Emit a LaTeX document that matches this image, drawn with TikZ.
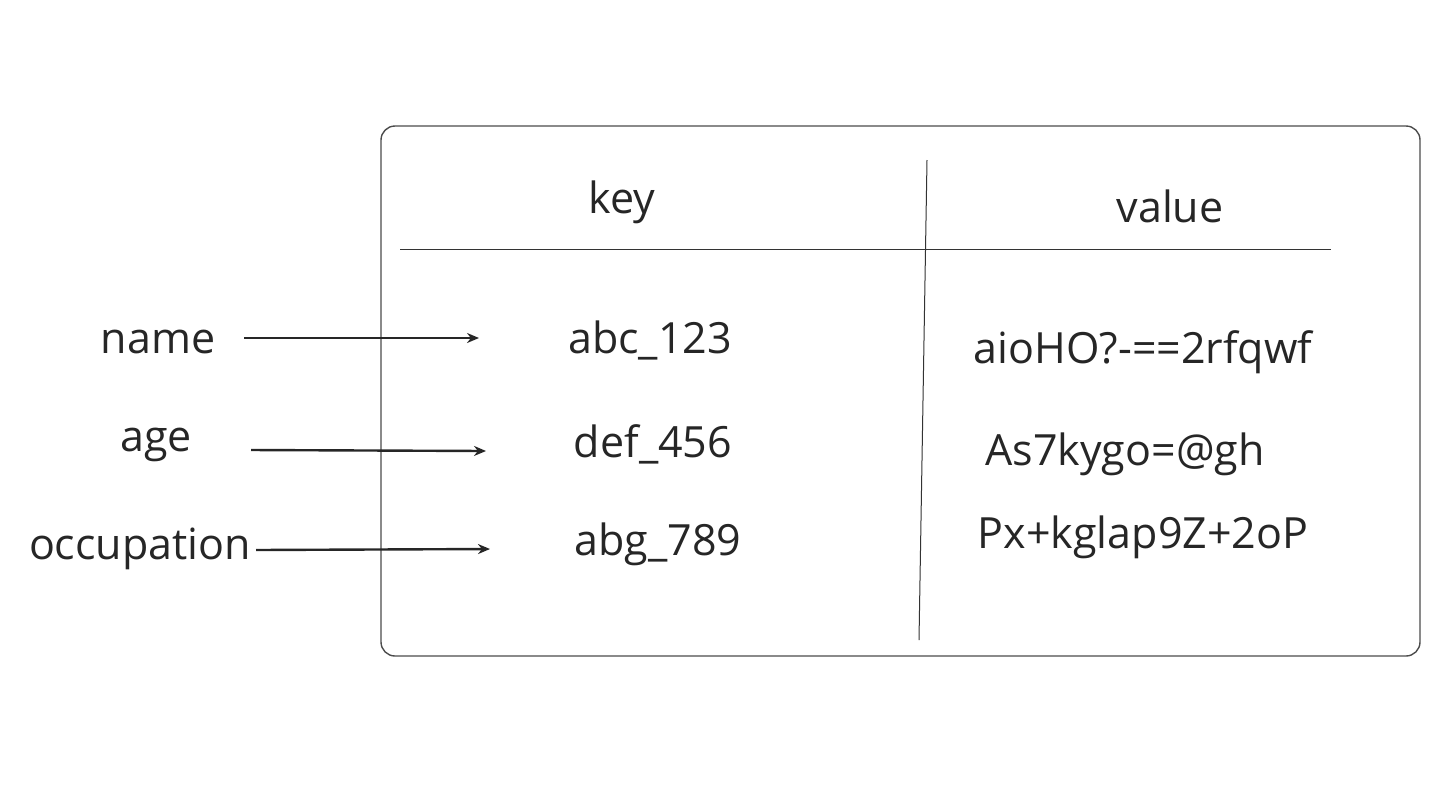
\documentclass[tikz,border=0pt]{standalone}
\usepackage{fontspec}
\setmainfont{Open Sans}
\usetikzlibrary{arrows.meta}
\begin{document}
\begin{tikzpicture}[x=0.5pt,y=-0.5pt,
  lbl/.style={font=\fontsize{21.5}{25}\selectfont, text=black!85, inner sep=0pt, anchor=center, yshift=-2pt},
  frame/.style={draw=black!70, line width=0.7pt, rounded corners=7pt},
  rule/.style={draw=black!80, line width=0.5pt},
  conn/.style={draw=black!85, line width=1.2pt, -{Stealth[length=6pt,width=5pt]}}]
\useasboundingbox (0,0) rectangle (1440,810);
\draw[frame] (381,126) rectangle (1420,656);
\coordinate (hl) at (400,249);
\coordinate (hr) at (1331,249);
\draw[rule] (hl) -- (hr);
\coordinate (vt) at (927,160);
\coordinate (vb) at (919,640);
\draw[rule] (vt) -- (vb);
\node[lbl] (key) at (622,198) {key};
\node[lbl] (value) at (1170,202) {value};
\node[lbl] (name) at (158,338) {name};
\node[lbl] (age) at (156,441) {age};
\node[lbl] (occ) at (140,545) {occupation};
\node[lbl] (k1) at (650,336) {abc\_123};
\node[lbl] (k2) at (653,440) {def\_456};
\node[lbl] (k3) at (658,540) {abg\_789};
\node[lbl] (v1) at (1143,348) {aioHO?-==2rfqwf};
\node[lbl] (v2) at (1125,450) {As7kygo=@gh};
\node[lbl] (v3) at (1143,533) {Px+kglap9Z+2oP};
\coordinate (a1) at (479,338);
\coordinate (a2) at (486,451);
\coordinate (a3) at (490,549);
\draw[conn] (244,338) -- (a1);
\draw[conn] (251,450) -- (a2);
\draw[conn] (256,550) -- (a3);
\end{tikzpicture}
\end{document}
